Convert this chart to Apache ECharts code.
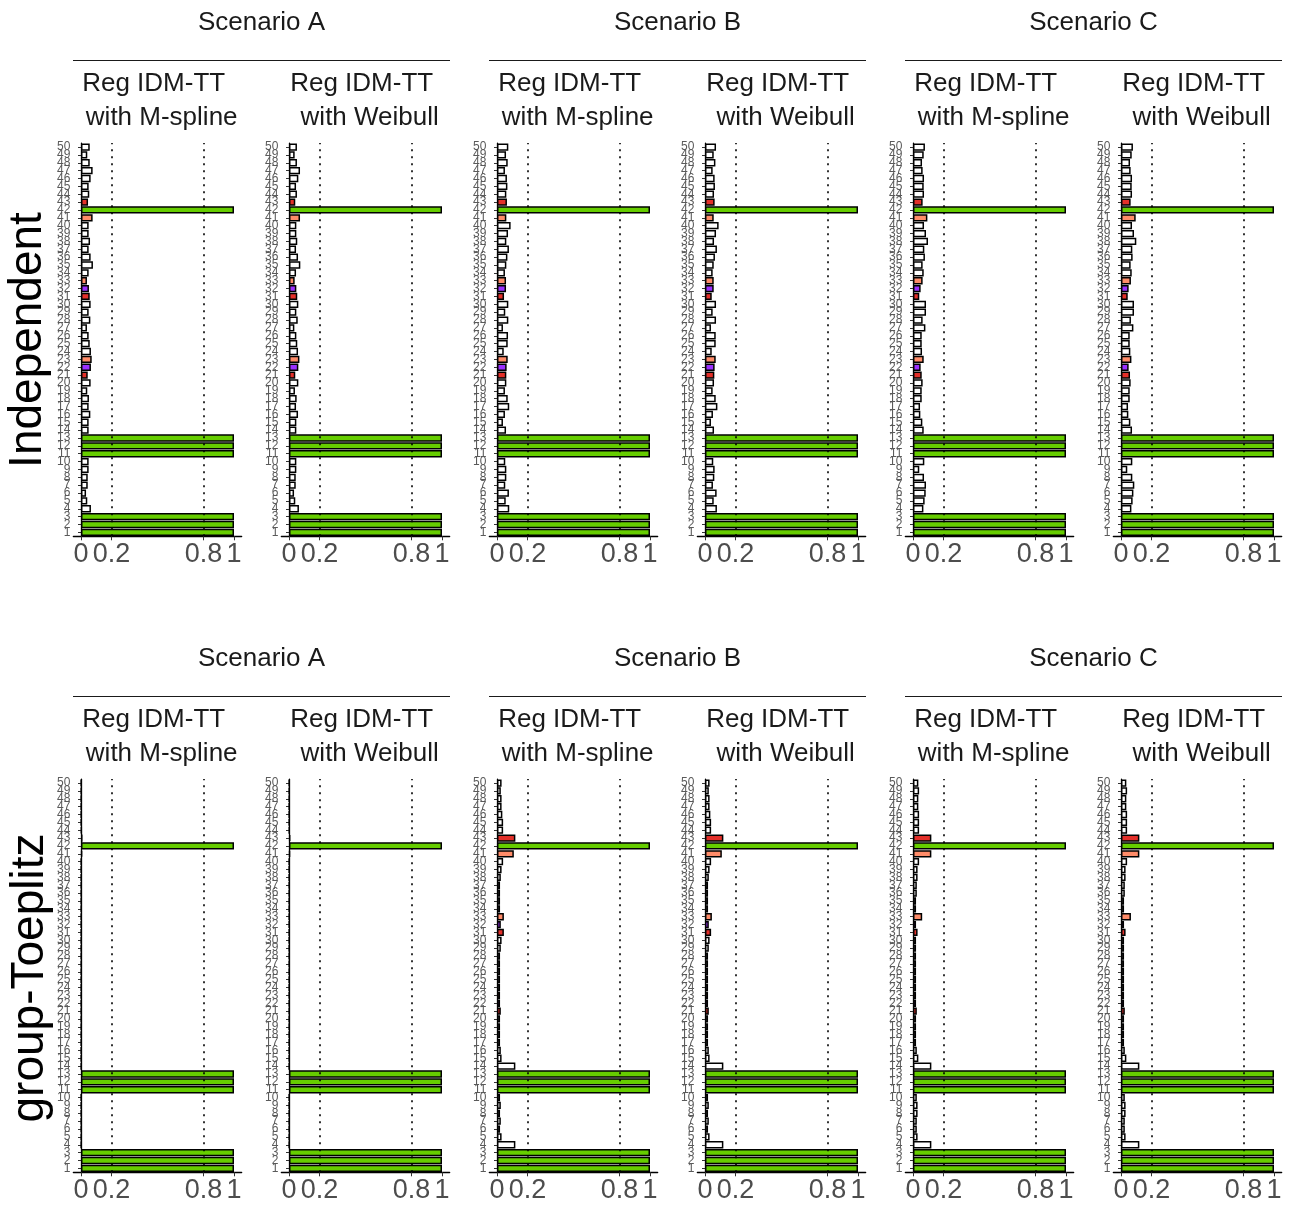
<!DOCTYPE html>
<html>
<head>
<meta charset="utf-8">
<script src="https://cdn.jsdelivr.net/npm/echarts@6/dist/echarts.min.js"></script>
<style>
html,body{margin:0;padding:0;background:#fff;}
#chart{width:1295px;height:1209px;}
</style>
</head>
<body>
<div id="chart"></div>
<script>
// ---- data ----
const categories = ['1','2','3','4','5','6','7','8','9','10','11','12','13','14','15','16','17','18','19','20','21','22','23','24','25','26','27','28','29','30','31','32','33','34','35','36','37','38','39','40','41','42','43','44','45','46','47','48','49','50'];
// colour group of each variable: g = true signal, r/p/s = correlated neighbours, w = noise
const colourGroup = ['g','g','g','w','w','w','w','w','w','w','g','g','g','w','w','w','w','w','w','w','r','p','s','w','w','w','w','w','w','w','r','p','s','w','w','w','w','w','w','w','s','g','r','w','w','w','w','w','w','w'];
const xTicks = [0, 0.2, 0.8, 1];
const refLines = [0.2, 0.8];
const scenarios = ['Scenario A', 'Scenario B', 'Scenario C'];
const methods = [['Reg IDM-TT', 'with M-spline'], ['Reg IDM-TT', 'with Weibull']];
const rowLabels = ['Independent', 'group-Toeplitz'];

const indepA_Mspline = [1,1,1,0.065,0.041,0.033,0.044,0.044,0.05,0.05,1,1,1,0.05,0.05,0.061,0.05,0.052,0.041,0.063,0.044,0.065,0.07,0.065,0.057,0.05,0.039,0.061,0.05,0.063,0.057,0.052,0.039,0.05,0.078,0.063,0.05,0.059,0.05,0.05,0.076,1,0.046,0.054,0.05,0.063,0.076,0.057,0.041,0.057];
const indepA_Weibull = [1,1,1,0.065,0.041,0.033,0.044,0.044,0.048,0.048,1,1,1,0.048,0.048,0.059,0.046,0.05,0.039,0.061,0.041,0.061,0.068,0.059,0.054,0.048,0.035,0.057,0.048,0.061,0.054,0.048,0.037,0.046,0.074,0.059,0.046,0.054,0.048,0.048,0.072,1,0.041,0.052,0.046,0.061,0.072,0.052,0.037,0.052];
const indepB_Mspline = [1,1,1,0.08,0.057,0.078,0.054,0.061,0.061,0.054,1,1,1,0.059,0.039,0.052,0.08,0.07,0.052,0.061,0.061,0.063,0.07,0.044,0.07,0.072,0.039,0.074,0.054,0.074,0.046,0.059,0.059,0.052,0.061,0.068,0.078,0.061,0.072,0.089,0.061,1,0.065,0.061,0.068,0.065,0.052,0.07,0.059,0.074];
const indepB_Weibull = [1,1,1,0.078,0.057,0.076,0.052,0.061,0.063,0.054,1,1,1,0.059,0.039,0.052,0.081,0.07,0.05,0.059,0.061,0.063,0.07,0.044,0.07,0.07,0.039,0.072,0.05,0.072,0.044,0.057,0.057,0.05,0.057,0.065,0.078,0.059,0.072,0.089,0.057,1,0.063,0.059,0.065,0.063,0.05,0.068,0.057,0.072];
const indepC_Mspline = [1,1,1,0.068,0.076,0.083,0.085,0.072,0.041,0.074,1,1,1,0.07,0.061,0.048,0.046,0.057,0.057,0.063,0.057,0.05,0.07,0.059,0.057,0.057,0.081,0.063,0.085,0.085,0.041,0.05,0.063,0.07,0.063,0.078,0.074,0.098,0.085,0.072,0.094,1,0.063,0.072,0.07,0.072,0.063,0.059,0.07,0.078];
const indepC_Weibull = [1,1,1,0.068,0.076,0.081,0.087,0.074,0.041,0.074,1,1,1,0.072,0.061,0.048,0.046,0.057,0.057,0.063,0.059,0.05,0.068,0.061,0.057,0.057,0.081,0.065,0.085,0.085,0.044,0.05,0.065,0.07,0.063,0.076,0.074,0.1,0.085,0.072,0.096,1,0.063,0.072,0.07,0.072,0.063,0.059,0.07,0.078];

const toepA_Mspline = [1,1,1,0.002,0.002,0.002,0.002,0.002,0.002,0.002,1,1,1,0.002,0.002,0.002,0.002,0.002,0.002,0.002,0.002,0.002,0.002,0.002,0.002,0.002,0.002,0.002,0.002,0.002,0.002,0.002,0.002,0.002,0.002,0.002,0.002,0.002,0.002,0.002,0.008,1,0.01,0.004,0.002,0.002,0.002,0.002,0.002,0.002];
const toepA_Weibull = [1,1,1,0.002,0.002,0.002,0.002,0.002,0.002,0.002,1,1,1,0.002,0.002,0.002,0.002,0.002,0.002,0.002,0.002,0.002,0.002,0.002,0.002,0.002,0.002,0.002,0.002,0.002,0.002,0.002,0.002,0.002,0.002,0.002,0.002,0.002,0.002,0.002,0.007,1,0.009,0.003,0.002,0.002,0.002,0.002,0.002,0.002];
const toepB_Mspline = [1,1,1,0.12,0.03,0.02,0.025,0.02,0.025,0.02,1,1,1,0.12,0.03,0.025,0.02,0.02,0.02,0.02,0.025,0.02,0.02,0.02,0.02,0.02,0.02,0.02,0.025,0.03,0.045,0.025,0.045,0.02,0.02,0.02,0.02,0.025,0.03,0.04,0.11,1,0.12,0.04,0.04,0.035,0.03,0.03,0.025,0.03];
const toepB_Weibull = [1,1,1,0.12,0.03,0.02,0.025,0.02,0.025,0.02,1,1,1,0.12,0.03,0.025,0.02,0.02,0.02,0.02,0.025,0.02,0.02,0.02,0.02,0.02,0.02,0.02,0.025,0.03,0.04,0.025,0.045,0.02,0.02,0.02,0.02,0.025,0.03,0.04,0.11,1,0.12,0.04,0.04,0.035,0.03,0.03,0.025,0.03];
const toepC_Mspline = [1,1,1,0.12,0.03,0.025,0.025,0.03,0.03,0.025,1,1,1,0.12,0.035,0.025,0.02,0.02,0.02,0.02,0.025,0.02,0.02,0.02,0.02,0.02,0.02,0.02,0.02,0.02,0.03,0.02,0.06,0.02,0.02,0.025,0.025,0.03,0.03,0.04,0.12,1,0.12,0.04,0.04,0.04,0.035,0.035,0.04,0.035];
const toepC_Weibull = [1,1,1,0.12,0.03,0.025,0.025,0.03,0.03,0.025,1,1,1,0.12,0.035,0.025,0.02,0.02,0.02,0.02,0.025,0.02,0.02,0.02,0.02,0.02,0.02,0.02,0.02,0.02,0.03,0.02,0.065,0.02,0.02,0.025,0.025,0.03,0.03,0.04,0.12,1,0.12,0.04,0.04,0.04,0.035,0.035,0.04,0.035];

const panels = [
  [indepA_Mspline, indepA_Weibull, indepB_Mspline, indepB_Weibull, indepC_Mspline, indepC_Weibull],
  [toepA_Mspline, toepA_Weibull, toepB_Mspline, toepB_Weibull, toepC_Mspline, toepC_Weibull]
];

// ---- styling / layout ----
const colourMap = { g: '#66CD00', r: '#E3302A', p: '#9B30FF', s: '#FF8C69', w: '#FFFFFF' };
const FONT = 'Liberation Sans, Arial, sans-serif';
const gridLeft0 = 73.35, panelStep = 208, gridW = 168.3;
const gridTop0 = 143.1, rowStep = 636, gridH = 393.2;

const grids = [], xAxes = [], yAxes = [], series = [], graphics = [];
let idx = 0;
for (let r = 0; r < 2; r++) {
  for (let p = 0; p < 6; p++) {
    const left = gridLeft0 + panelStep * p;
    const top = gridTop0 + rowStep * r;
    grids.push({ left: left, top: top, width: gridW, height: gridH, containLabel: false });
    xAxes.push({
      type: 'value', gridIndex: idx, min: -0.05, max: 1.05,
      axisLine: { show: true, lineStyle: { color: '#000', width: 1.3 } },
      axisTick: { show: true, customValues: xTicks, length: 4, lineStyle: { color: '#333', width: 1 } },
      axisLabel: { customValues: xTicks, fontSize: 27, color: '#4D4D4D', fontFamily: FONT, margin: 5,
        formatter: v => String(v) },
      splitLine: { show: false }
    });
    yAxes.push({
      type: 'category', gridIndex: idx, data: categories,
      axisLine: { show: true, lineStyle: { color: '#000', width: 1.3 } },
      axisTick: { show: true, alignWithLabel: true, length: 3, interval: 0, lineStyle: { color: '#333' } },
      axisLabel: { interval: 0, fontSize: 12, color: '#5A5A5A', fontFamily: FONT, margin: 3 },
      splitLine: { show: false }
    });
    series.push({
      type: 'bar', xAxisIndex: idx, yAxisIndex: idx,
      data: panels[r][p],
      barCategoryGap: '7%',
      itemStyle: {
        color: prm => colourMap[colourGroup[prm.dataIndex]],
        borderColor: '#000', borderWidth: 1.5
      },
      animation: false,
      markLine: {
        silent: true, symbol: ['none', 'none'], animation: false,
        label: { show: false },
        lineStyle: { type: [2, 5], color: '#000', width: 1.6 },
        data: refLines.map(v => ({ xAxis: v }))
      }
    });
    // panel strip titles
    const cx = left + gridW / 2 - 0.3;
    const m = methods[p % 2];
    graphics.push({ type: 'text', x: cx - 3.5, y: 84 + rowStep * r,
      style: { text: m[0], font: '26px ' + FONT, fill: '#1A1A1A', textAlign: 'center', textVerticalAlign: 'middle' } });
    graphics.push({ type: 'text', x: cx + 4.5, y: 118 + rowStep * r,
      style: { text: m[1], font: '26px ' + FONT, fill: '#1A1A1A', textAlign: 'center', textVerticalAlign: 'middle' } });
    idx++;
  }
  // scenario headers
  for (let s = 0; s < 3; s++) {
    const l = 73 + 416 * s, rr = 450 + 416 * s;
    graphics.push({ type: 'text', x: (l + rr) / 2, y: 23 + rowStep * r,
      style: { text: scenarios[s], font: '26px ' + FONT, fill: '#1A1A1A', textAlign: 'center', textVerticalAlign: 'middle' } });
    graphics.push({ type: 'line', shape: { x1: l, y1: 60.5 + rowStep * r, x2: rr, y2: 60.5 + rowStep * r },
      style: { stroke: '#1A1A1A', lineWidth: 1 } });
  }
  // row labels
  graphics.push({ type: 'text', x: 28 + 2 * r, y: 340 + rowStep * r + 2 * r, rotation: Math.PI / 2,
    style: { text: rowLabels[r], font: '46px ' + FONT, fill: '#000', textAlign: 'center', textVerticalAlign: 'middle' } });
}

const chart = echarts.init(document.getElementById('chart'), null, { renderer: 'canvas' });
chart.setOption({
  animation: false,
  backgroundColor: '#fff',
  grid: grids, xAxis: xAxes, yAxis: yAxes, series: series,
  graphic: graphics
});
</script>
</body>
</html>
